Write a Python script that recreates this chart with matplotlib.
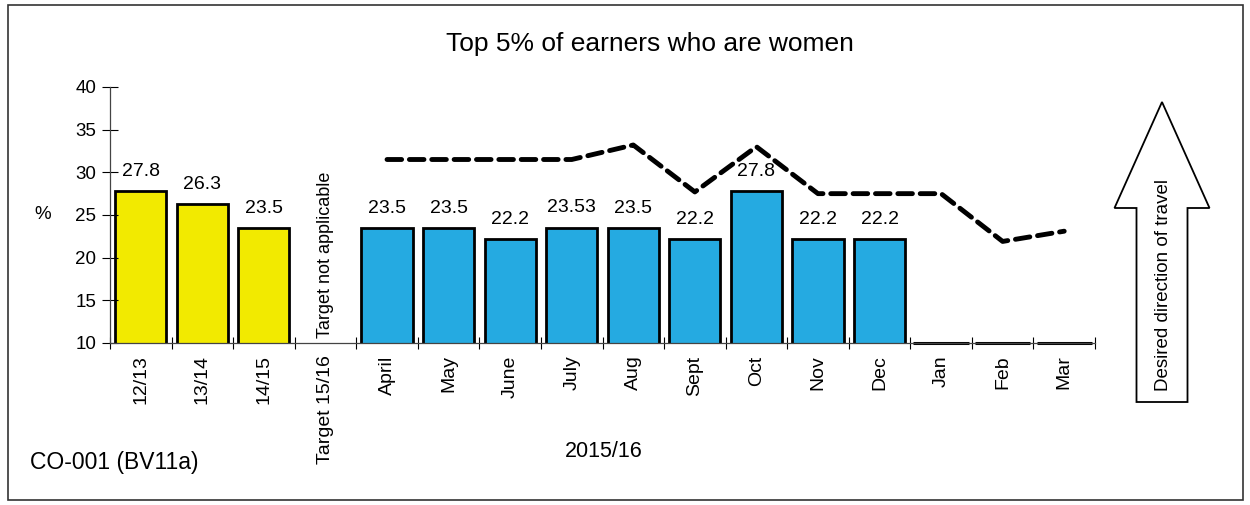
import matplotlib.pyplot as plt
import numpy as np
from matplotlib.patches import FancyArrow, Rectangle

# 年度值 + 2015/16 各月值
year_labels = ["12/13", "13/14", "14/15"]
year_values = [27.8, 26.3, 23.5]
target_label = "Target 15/16"
month_labels = ["April", "May", "June", "July", "Aug", "Sept", "Oct", "Nov", "Dec",
                "Jan", "Feb", "Mar"]
month_values = [23.5, 23.5, 22.2, 23.53, 23.5, 22.2, 27.8, 22.2, 22.2, None, None, None]
month_value_text = ["23.5", "23.5", "22.2", "23.53", "23.5", "22.2", "27.8", "22.2", "22.2"]
month_target = [31.5, 31.5, 31.5, 31.5, 33.2, 27.7, 33.0, 27.5, 27.5, 27.5, 21.9, 23.1]

labels = year_labels + [target_label] + month_labels
x = np.arange(len(labels))
x_year = x[:3]
x_month = x[4:]

plt.rcParams["font.family"] = ["Liberation Sans", "DejaVu Sans"]

fig = plt.figure(figsize=(12.5, 5.05), dpi=100)
fig.patches.append(Rectangle((0.006, 0.01), 0.988, 0.98, transform=fig.transFigure,
                             fill=False, edgecolor="#333333", linewidth=1.2))
ax = fig.add_axes([0.088, 0.3208, 0.788, 0.507])

bw = 0.83
ax.bar(x_year, year_values, width=bw, color="#F2EA00", edgecolor="black", linewidth=2)
for xi, v in zip(x_year, year_values):
    ax.text(xi, v + 1.3, f"{v}", ha="center", va="bottom", fontsize=14)

vals = [v for v in month_values if v is not None]
xs = x_month[:len(vals)]
ax.bar(xs, vals, width=bw, color="#25AAE1", edgecolor="black", linewidth=2)
for xi, v, t in zip(xs, vals, month_value_text):
    ax.text(xi, v + 1.3, t, ha="center", va="bottom", fontsize=14)
# 尚无数据的月份只画底线
for xi in x_month[len(vals):]:
    ax.plot([xi - 0.45, xi + 0.45], [10, 10], color="black", linewidth=2.2,
            clip_on=False, solid_capstyle="butt")

ax.plot(x_month, month_target, color="black", linewidth=3.5, linestyle=(0, (3, 1.6)),
        dash_capstyle="round")

ax.text(x[3], 10.6, "Target not applicable", rotation=90, ha="center", va="bottom",
        fontsize=13)

ax.set_xlim(-0.5, len(labels) - 0.5)
ax.set_ylim(10, 40)
ax.set_yticks(np.arange(10, 41, 5))
ax.set_xticks(x)
ax.set_xticklabels(labels, rotation=90, fontsize=14)
ax.set_xticks(np.arange(-0.5, len(labels), 1), minor=True)
ax.tick_params(axis="x", which="major", length=0, pad=9)
ax.tick_params(axis="x", which="minor", direction="inout", length=8, width=0.8)
ax.tick_params(axis="y", direction="inout", length=12, width=0.8, labelsize=13.5, pad=4)
for s in ["top", "right"]:
    ax.spines[s].set_visible(False)
for s in ["left", "bottom"]:
    ax.spines[s].set_linewidth(0.9)
    ax.spines[s].set_color("#444444")

fig.text(0.0344, 0.575, "%", fontsize=13.5, ha="center", va="center")
fig.text(0.52, 0.912, "Top 5% of earners who are women", fontsize=19, ha="center", va="center")
fig.text(0.483, 0.105, "2015/16", fontsize=15.5, ha="center", va="center")
fig.text(0.024, 0.085, "CO-001 (BV11a)", fontsize=16.5, ha="left", va="center")

# 右侧方向箭头
arrow = FancyArrow(0.9296, 1 - 402 / 505, 0, (402 - 102) / 505, width=51 / 1250,
                   head_width=95 / 1250, head_length=106 / 505, length_includes_head=True,
                   transform=fig.transFigure, facecolor="white", edgecolor="black",
                   linewidth=1.3)
fig.patches.append(arrow)
fig.text(0.9304, 1 - 285 / 505, "Desired direction of travel", rotation=90, fontsize=13.5,
         ha="center", va="center")

fig.savefig("out.png", dpi=100)
